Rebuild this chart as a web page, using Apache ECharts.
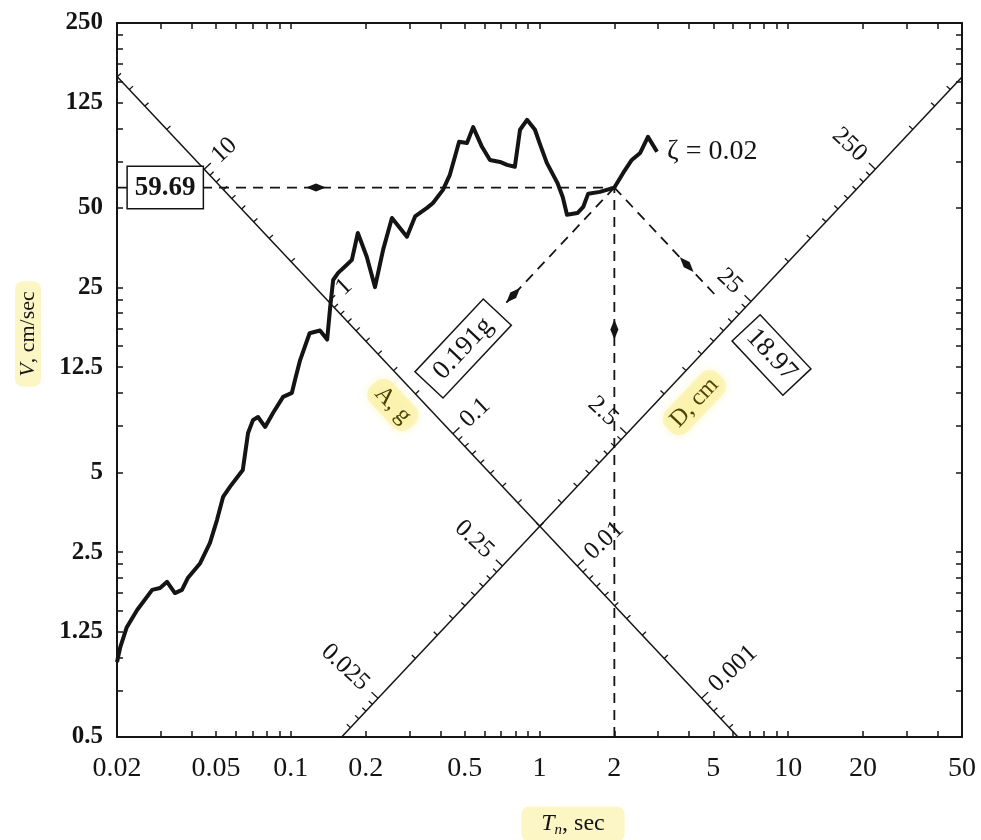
<!DOCTYPE html>
<html>
<head>
<meta charset="utf-8">
<script src="https://cdn.jsdelivr.net/npm/echarts@6/dist/echarts.min.js"></script>
<style>
  html, body { margin: 0; padding: 0; background: #ffffff; }
  #chart { width: 981px; height: 840px; }
</style>
</head>
<body>
<div id="chart"></div>
<script>
// Tripartite pseudo-velocity response spectrum, damping ratio 0.02.

// Natural vibration period Tn (sec) and pseudo-velocity V (cm/sec) along the spectrum
const periods = [0.020, 0.0206, 0.0219, 0.0241, 0.0277, 0.0298, 0.0318, 0.0342, 0.0365, 0.0386,
  0.0432, 0.0473, 0.0505, 0.0534, 0.0569, 0.0641, 0.0673, 0.0705, 0.0738, 0.0788,
  0.0848, 0.0931, 0.101, 0.104, 0.109, 0.119, 0.131, 0.140, 0.144, 0.148,
  0.155, 0.168, 0.176, 0.186, 0.202, 0.218, 0.235, 0.255, 0.293, 0.316,
  0.353, 0.373, 0.409, 0.436, 0.457, 0.475, 0.511, 0.541, 0.587, 0.632,
  0.694, 0.740, 0.796, 0.835, 0.891, 0.959, 1.00, 1.07, 1.18, 1.24,
  1.29, 1.42, 1.50, 1.57, 1.75, 2.00, 2.17, 2.35, 2.54, 2.73, 2.97];
const pseudoVelocity = [0.96, 1.09, 1.30, 1.51, 1.80, 1.83, 1.93, 1.75, 1.80, 2.00,
  2.27, 2.71, 3.31, 4.04, 4.41, 5.11, 7.05, 7.90, 8.10, 7.43,
  8.39, 9.65, 10.0, 11.2, 13.3, 16.8, 17.2, 15.9, 21.1, 26.7,
  28.4, 30.5, 31.8, 40.2, 32.7, 25.1, 34.7, 45.8, 38.9, 46.4,
  50.0, 52.2, 58.5, 66.7, 78.0, 89.0, 88.0, 101, 85.1, 75.9,
  74.6, 72.7, 71.5, 98.7, 107.6, 98.7, 88.1, 74.0, 62.2, 55.0,
  47.1, 47.8, 50.5, 56.6, 57.5, 59.69, 67.8, 75.9, 80.7, 92.8, 81.5];

// Axis label values
const periodLabels = [0.02, 0.05, 0.1, 0.2, 0.5, 1, 2, 5, 10, 20, 50];
const velocityLabels = [0.5, 1.25, 2.5, 5, 12.5, 25, 50, 125, 250];
const accelLabels = [10, 1, 0.1, 0.01, 0.001];      // g
const dispLabels = [0.025, 0.25, 2.5, 25, 250];     // cm

const dampingRatio = 0.02;

// Values at Tn = 2 sec
const readPeriod = 2;
const readVelocity = 59.69;
const readDisp = 18.97;
const readAccel = 0.191;

// Scale constants
const G = 981;                 // cm/sec^2
const T_MIN = 0.02, T_MAX = 50, V_MIN = 0.5, V_MAX = 250;
const ACCEL_SCALE_DISP = 0.5;           // the A scale runs along D = 0.5 cm
const DISP_SCALE_ACCEL = 0.02 * G;      // the D scale runs along A = 0.02 g
const TWO_PI = 2 * Math.PI;
const SERIF = '"Liberation Serif", "DejaVu Serif", serif';

// Point on the A scale (constant D line) where acceleration = a (g)
function accelScalePoint(a) {
  const T = TWO_PI * Math.sqrt(ACCEL_SCALE_DISP / (a * G));
  return [T, TWO_PI * ACCEL_SCALE_DISP / T];
}
// Point on the D scale (constant A line) where displacement = d (cm)
function dispScalePoint(d) {
  const T = TWO_PI * Math.sqrt(d / DISP_SCALE_ACCEL);
  return [T, DISP_SCALE_ACCEL * T / TWO_PI];
}

// Tick positions on the frame
const periodTicks = [];
[0.01, 0.1, 1, 10].forEach(dec => {
  for (let m = 1; m <= 9; m++) {
    const v = +(m * dec).toPrecision(6);
    if (v >= T_MIN - 1e-9 && v <= T_MAX + 1e-9) periodTicks.push(v);
  }
});
const velocityTicks = [];
[0.25, 2.5, 25].forEach(dec => {
  for (let m = 1; m <= 10; m++) {
    const v = +(m * dec).toPrecision(6);
    if (v >= V_MIN - 1e-9 && v <= V_MAX + 1e-9 && velocityTicks.indexOf(v) < 0) velocityTicks.push(v);
  }
});

// Ticks along the two diagonal scales: [T, V, value, major, kind]
const diagItems = [];
const isLabel = (v, arr) => arr.some(x => Math.abs(x - v) / x < 1e-6);
[1e-4, 1e-3, 1e-2, 0.1, 1, 10].forEach(dec => {
  for (let m = 1; m <= 9; m++) {
    const a = +(m * dec).toPrecision(6);
    const p = accelScalePoint(a);
    if (p[0] < T_MIN || p[1] < V_MIN) continue;
    diagItems.push([p[0], p[1], a, isLabel(a, accelLabels) ? 1 : 0, 0]);
  }
});
[0.0025, 0.025, 0.25, 2.5, 25, 250].forEach(dec => {
  for (let m = 1; m <= 9; m++) {
    const d = +(m * dec).toPrecision(6);
    const p = dispScalePoint(d);
    if (p[0] > T_MAX || p[1] < V_MIN || p[1] > V_MAX) continue;
    diagItems.push([p[0], p[1], d, isLabel(d, dispLabels) ? 1 : 0, 1]);
  }
});
// Scale titles, anchored on the scales
const accelTitleAt = 0.22, dispTitleAt = 6;
diagItems.push(accelScalePoint(accelTitleAt).concat([accelTitleAt, 0, 2]));
diagItems.push(dispScalePoint(dispTitleAt).concat([dispTitleAt, 0, 3]));

const fmtNum = v => String(+(+v).toPrecision(6));
const INK = '#141414';
const HILITE = 'rgba(249, 238, 150, 0.55)';

function renderDiagonal(params, api) {
  const T = api.value(0), V = api.value(1), val = api.value(2);
  const major = api.value(3), kind = api.value(4);
  const p = api.coord([T, V]);
  const alongA = (kind === 0 || kind === 2);
  const q = alongA ? api.coord([T * 1.2, V / 1.2]) : api.coord([T * 1.2, V * 1.2]);
  let dx = q[0] - p[0], dy = q[1] - p[1];
  const len = Math.hypot(dx, dy); dx /= len; dy /= len;
  const nx = dy, ny = -dx;   // normal pointing upward
  if (kind < 2) {
    const tl = major ? 9 : 5;
    const children = [{
      type: 'line',
      shape: { x1: p[0], y1: p[1], x2: p[0] + nx * tl, y2: p[1] + ny * tl },
      style: { stroke: INK, lineWidth: 1.3 }
    }];
    if (major) {
      const gap = kind === 0 ? 15 : 17;
      children.push({
        type: 'text',
        x: p[0] + nx * gap, y: p[1] + ny * gap,
        rotation: kind === 0 ? Math.atan2(-ny, nx) : Math.atan2(ny, -nx),
        style: {
          text: fmtNum(val), align: kind === 0 ? 'left' : 'right', verticalAlign: 'middle',
          fontSize: 25, fontFamily: SERIF, fill: INK
        }
      });
    }
    return { type: 'group', children: children };
  }
  const off = kind === 2 ? 24 : 28;
  return {
    type: 'text',
    x: p[0] - nx * off, y: p[1] - ny * off,
    rotation: Math.atan2(-dy, dx),
    style: {
      text: kind === 2 ? 'A, g' : 'D, cm',
      align: 'center', verticalAlign: 'middle',
      fontSize: 24, fontFamily: SERIF, fill: '#4b4408',
      backgroundColor: HILITE, padding: [3, 8], borderRadius: 12,
      shadowBlur: 10, shadowColor: 'rgba(249, 238, 150, 0.9)'
    }
  };
}

function renderReadout(params, api) {
  const P = api.coord([api.value(0), api.value(1)]);
  const left = api.coord([T_MIN, readVelocity]);
  const bottom = api.coord([readPeriod, V_MIN]);
  const aHit = api.coord(accelScalePoint(readAccel));
  const dHit = api.coord(dispScalePoint(readDisp));
  const lerp = (a, b, t) => [a[0] + (b[0] - a[0]) * t, a[1] + (b[1] - a[1]) * t];
  const dash = { stroke: INK, lineWidth: 1.8, lineDash: [10, 7], fill: null };
  const seg = (a, b) => ({ type: 'line', shape: { x1: a[0], y1: a[1], x2: b[0], y2: b[1] }, style: dash });
  const arrow = (tip, from) => {
    let ux = tip[0] - from[0], uy = tip[1] - from[1];
    const l = Math.hypot(ux, uy); ux /= l; uy /= l;
    const px = -uy, py = ux;
    return {
      type: 'polygon',
      shape: { points: [
        tip,
        [tip[0] - ux * 10 + px * 4, tip[1] - uy * 10 + py * 4],
        [tip[0] - ux * 20, tip[1] - uy * 20],
        [tip[0] - ux * 10 - px * 4, tip[1] - uy * 10 - py * 4]
      ] },
      style: { fill: INK }
    };
  };
  const box = (text, at, rot, bold, pad) => ({
    type: 'text', x: at[0], y: at[1], rotation: rot,
    style: {
      text: text, align: 'center', verticalAlign: 'middle',
      fontSize: 27, fontFamily: SERIF, fontWeight: bold ? 'bold' : 'normal', fill: INK,
      backgroundColor: '#ffffff', borderColor: INK, borderWidth: 1.5, padding: pad
    }
  });
  const aEnd = lerp(P, aHit, 0.55);
  const dEnd = lerp(P, dHit, 0.85);
  return {
    type: 'group',
    children: [
      seg(left, P),
      seg(bottom, P),
      seg(P, aEnd),
      seg(P, dEnd),
      arrow(lerp(P, left, 0.62), P),
      arrow(lerp(bottom, P, 0.76), bottom),
      arrow(aEnd, P),
      arrow(lerp(P, dHit, 0.65), P),
      box(fmtNum(readVelocity), lerp(P, left, 0.903), 0, true, [7, 7]),
      box(fmtNum(readAccel) + 'g', lerp(P, aHit, 0.77), Math.atan2(-(P[1] - aHit[1]), P[0] - aHit[0]), false, [5, 12]),
      box(fmtNum(readDisp), lerp(P, dHit, 1.29), Math.atan2(-(dHit[1] - P[1]), dHit[0] - P[0]), false, [5, 6])
    ]
  };
}

const frameLine = { show: true, onZero: false, lineStyle: { color: INK, width: 2 } };
const frameTick = ticks => ({ show: true, inside: true, length: 6, customValues: ticks, lineStyle: { color: INK, width: 1.5 } });

const chart = echarts.init(document.getElementById('chart'), null, { renderer: 'canvas' });
chart.setOption({
  animation: false,
  backgroundColor: '#ffffff',
  grid: { left: 117, right: 19, top: 23, bottom: 103, containLabel: false, outerBoundsMode: 'none' },
  xAxis: [{
    type: 'log', logBase: 10, min: T_MIN, max: T_MAX,
    axisLine: frameLine, axisTick: frameTick(periodTicks), minorTick: { show: false },
    splitLine: { show: false },
    axisLabel: {
      customValues: periodLabels, formatter: v => fmtNum(v), margin: 18,
      fontSize: 28, fontFamily: SERIF, color: INK, hideOverlap: false
    }
  }, {
    type: 'log', logBase: 10, min: T_MIN, max: T_MAX, position: 'top',
    axisLine: frameLine, axisTick: frameTick(periodTicks), splitLine: { show: false },
    axisLabel: { show: false }
  }],
  yAxis: [{
    type: 'log', logBase: 10, min: V_MIN, max: V_MAX,
    axisLine: frameLine, axisTick: frameTick(velocityTicks), minorTick: { show: false },
    splitLine: { show: false },
    axisLabel: {
      customValues: velocityLabels, formatter: v => fmtNum(v), margin: 14,
      fontSize: 25, fontWeight: 'bold', fontFamily: SERIF, color: INK, hideOverlap: false
    }
  }, {
    type: 'log', logBase: 10, min: V_MIN, max: V_MAX, position: 'right',
    axisLine: frameLine, axisTick: frameTick(velocityTicks), splitLine: { show: false },
    axisLabel: { show: false }
  }],
  graphic: [{
    type: 'text', x: 28, y: 334, rotation: Math.PI / 2,
    style: {
      text: '{i|V}{r|, cm/sec}', align: 'center', verticalAlign: 'middle',
      backgroundColor: HILITE, padding: [2, 10], borderRadius: 8,
      rich: {
        i: { fontSize: 22, fontFamily: SERIF, fontStyle: 'italic', fill: INK },
        r: { fontSize: 22, fontFamily: SERIF, fill: INK }
      }
    }
  }, {
    type: 'text', x: 573, y: 824,
    style: {
      text: '{i|T}{s|n}{r|, sec}', align: 'center', verticalAlign: 'middle',
      backgroundColor: HILITE, padding: [4, 20], borderRadius: 8,
      rich: {
        i: { fontSize: 24, fontFamily: SERIF, fontStyle: 'italic', fill: INK },
        s: { fontSize: 15, fontFamily: SERIF, fontStyle: 'italic', fill: INK, padding: [12, 0, 0, 0] },
        r: { fontSize: 24, fontFamily: SERIF, fill: INK }
      }
    }
  }],
  series: [{
    type: 'line', name: 'A scale',
    data: [[T_MIN, TWO_PI * ACCEL_SCALE_DISP / T_MIN], [TWO_PI * ACCEL_SCALE_DISP / V_MIN, V_MIN]],
    symbol: 'none', lineStyle: { color: INK, width: 1.5 }, z: 1, silent: true
  }, {
    type: 'line', name: 'D scale',
    data: [[TWO_PI * V_MIN / DISP_SCALE_ACCEL, V_MIN], [T_MAX, DISP_SCALE_ACCEL * T_MAX / TWO_PI]],
    symbol: 'none', lineStyle: { color: INK, width: 1.5 }, z: 1, silent: true
  }, {
    type: 'custom', name: 'scale ticks', renderItem: renderDiagonal,
    data: diagItems, z: 2, silent: true
  }, {
    type: 'line', name: 'spectrum',
    data: periods.map((t, i) => [t, pseudoVelocity[i]]),
    symbol: 'none', lineStyle: { color: INK, width: 4, join: 'round' }, z: 5,
    endLabel: {
      show: true, formatter: 'ζ = ' + dampingRatio, distance: 10,
      fontSize: 28, fontFamily: SERIF, color: INK
    }
  }, {
    type: 'custom', name: 'readout', renderItem: renderReadout,
    data: [[readPeriod, readVelocity]], z: 6, silent: true
  }]
});
</script>
</body>
</html>
